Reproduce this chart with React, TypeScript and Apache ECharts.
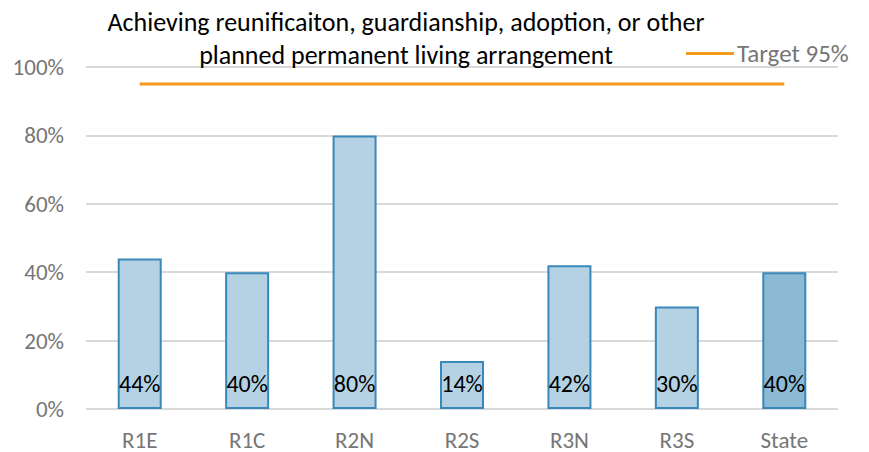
import React, { useEffect, useRef } from "react";
import * as echarts from "echarts";

const categories = ["R1E", "R1C", "R2N", "R2S", "R3N", "R3S", "State"];
const values = [44, 40, 80, 14, 42, 30, 40];
const targetValues = [95, 95, 95, 95, 95, 95, 95];
const yTicks = [0, 20, 40, 60, 80, 100];
const titleLines = [
  "Achieving reunificaiton, guardianship, adoption, or other",
  "planned permanent living arrangement",
];

const FONT = "Carlito, Calibri, Lato, sans-serif";

export default function App() {
  const ref = useRef<HTMLDivElement>(null);
  useEffect(() => {
    const chart = echarts.init(ref.current!, null, { renderer: "svg" });
    chart.setOption({
      animation: false,
      textStyle: { fontFamily: FONT },
      title: {
        text: titleLines.join("\n"),
        left: 401,
        top: 0,
        textAlign: "center",
        textStyle: { fontSize: 26, fontWeight: "normal", color: "#000", lineHeight: 33, fontFamily: FONT },
      },
      legend: {
        data: ["Target 95%"],
        left: 681,
        top: 36,
        icon: "rect",
        itemWidth: 48,
        itemHeight: 3,
        itemGap: 8,
        textStyle: { color: "#767676", fontSize: 25, fontFamily: FONT, padding: [0, 0, 0, -2] },
      },
      grid: { left: 86, right: 31, top: 67, bottom: 43 },
      xAxis: {
        type: "category",
        data: categories,
        axisLine: { show: false },
        axisTick: { show: false },
        axisLabel: { color: "#767676", fontSize: 23, margin: 19, fontFamily: FONT },
      },
      yAxis: {
        type: "value",
        min: yTicks[0],
        max: yTicks[yTicks.length - 1],
        interval: 20,
        axisLabel: { color: "#767676", fontSize: 23, margin: 22, formatter: "{value}%", fontFamily: FONT },
        splitLine: { lineStyle: { color: "#d9d9d9", width: 2 } },
        axisLine: { show: false },
        axisTick: { show: false },
      },
      series: [
        {
          type: "bar",
          data: values.map((v, i) => ({
            value: v,
            itemStyle: { color: i === values.length - 1 ? "#8cbad4" : "#b4d2e4" },
          })),
          barWidth: 44,
          itemStyle: { borderColor: "#3a87b9", borderWidth: 2 },
          label: {
            show: true,
            position: "insideBottom",
            distance: 14,
            formatter: "{c}%",
            color: "#000",
            fontSize: 24,
            fontFamily: FONT,
          },
        },
        {
          name: "Target 95%",
          type: "line",
          data: targetValues,
          symbol: "none",
          itemStyle: { color: "#f39a1c" },
          lineStyle: { color: "#f39a1c", width: 3 },
        },
      ],
    });
    return () => chart.dispose();
  }, []);
  return (
    <div
      ref={ref}
      style={{ position: "absolute", left: 0, top: 0, width: 869, height: 452 }}
    />
  );
}
